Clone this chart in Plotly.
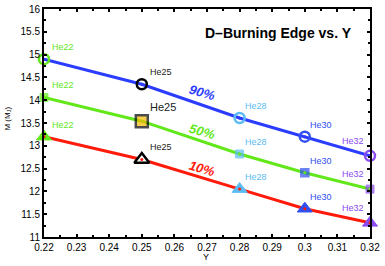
import plotly.graph_objects as go

Y_vals = [0.22, 0.25, 0.28, 0.30, 0.32]
m90 = [14.90, 14.35, 13.61, 13.20, 12.78]
m50 = [14.06, 13.54, 12.82, 12.41, 12.05]
m10 = [13.20, 12.70, 12.05, 11.62, 11.31]
labels = ["He22", "He25", "He28", "He30", "He32"]
pct_labels = ["90%", "50%", "10%"]
x_ticks = [0.22, 0.23, 0.24, 0.25, 0.26, 0.27, 0.28, 0.29, 0.30, 0.31, 0.32]
x_ticktext = ["0.22", "0.23", "0.24", "0.25", "0.26", "0.27", "0.28", "0.29", "0.3", "0.31", "0.32"]
y_ticks = [11, 11.5, 12, 12.5, 13, 13.5, 14, 14.5, 15, 15.5, 16]
y_ticktext = ["11", "11.5", "12", "12.5", "13", "13.5", "14", "14.5", "15", "15.5", "16"]

FONT = "Liberation Sans, Arial, Helvetica, sans-serif"
BLUE = "#2b3cff"
GREEN = "#62e81a"
RED = "#ff1a0a"
LBLUE = "#5bbcf5"
MBLUE = "#2f4ff0"
PURPLE = "#8a4cf0"
pt_colors = [GREEN, "black", LBLUE, MBLUE, PURPLE]

fig = go.Figure()

series = [(m90, BLUE), (m50, GREEN), (m10, RED)]
for ys, col in series:
    fig.add_trace(go.Scatter(x=Y_vals, y=ys, mode="lines", cliponaxis=False,
                             line=dict(color=col, width=3), showlegend=False,
                             hoverinfo="skip"))

# circles on 90% line
fig.add_trace(go.Scatter(x=Y_vals, y=m90, mode="markers", showlegend=False, cliponaxis=False,
                         marker=dict(symbol="circle", size=10, color="rgba(0,0,0,0)",
                                     line=dict(color=pt_colors, width=2.5))))
fig.add_trace(go.Scatter(x=Y_vals, y=m90, mode="markers", showlegend=False, cliponaxis=False,
                         marker=dict(symbol="circle", size=3, color=BLUE)))

# squares on 50% line
sq_fill = [GREEN, "#f5b800", LBLUE, MBLUE, PURPLE]
sq_sizes = [8, 12, 8, 8, 8]
fig.add_trace(go.Scatter(x=Y_vals, y=m50, mode="markers", showlegend=False, cliponaxis=False,
                         marker=dict(symbol="square", size=sq_sizes, color=sq_fill,
                                     line=dict(color=pt_colors, width=[1, 2.5, 1, 1.5, 1]))))
fig.add_trace(go.Scatter(x=[Y_vals[i] for i in (0, 2, 3, 4)], y=[m50[i] for i in (0, 2, 3, 4)],
                         mode="markers", showlegend=False, cliponaxis=False,
                         marker=dict(symbol="circle", size=3, color=GREEN)))

# triangles on 10% line
tri_fill = [GREEN, "white", LBLUE, MBLUE, PURPLE]
fig.add_trace(go.Scatter(x=Y_vals, y=m10, mode="markers", showlegend=False, cliponaxis=False,
                         marker=dict(symbol="triangle-up", size=13, color=tri_fill,
                                     line=dict(color=pt_colors, width=[1, 2.5, 1, 1, 1]))))
fig.add_trace(go.Scatter(x=Y_vals, y=m10, mode="markers", showlegend=False, cliponaxis=False,
                         marker=dict(symbol="circle", size=3, color=RED)))

# point labels
for ys in (m90, m50, m10):
    for i, (x, y) in enumerate(zip(Y_vals, ys)):
        big = (ys is m50 and i == 1)
        if i == 4:
            fig.add_annotation(x=x, y=y, text=labels[i], showarrow=False,
                               xanchor="right", yanchor="middle", xshift=-4, yshift=15,
                               font=dict(family=FONT, size=9, color=pt_colors[i]))
        else:
            fig.add_annotation(x=x, y=y, text=labels[i], showarrow=False,
                               xanchor="left", yanchor="middle",
                               xshift=(6 if i < 2 else 3), yshift=(14 if big else 12),
                               font=dict(family=FONT, size=(11 if big else 9),
                                         color=("#222222" if pt_colors[i] == "black" else pt_colors[i])))

# percentage labels
pct_pos = [(0.2684, 14.16, BLUE), (0.2684, 13.31, GREEN), (0.2684, 12.51, RED)]
for txt, (x, y, col) in zip(pct_labels, pct_pos):
    fig.add_annotation(x=x, y=y, text="<b><i>" + txt + "</i></b>", showarrow=False,
                       xanchor="center", yanchor="middle",
                       textangle=16, font=dict(family=FONT, size=13, color=col))

fig.add_annotation(xref="paper", yref="paper", x=0.718, y=0.895,
                   xanchor="center", yanchor="middle",
                   text="<b>D–Burning Edge vs. Y</b>", showarrow=False,
                   font=dict(family=FONT, size=14, color="black"))

# axis titles
fig.add_annotation(xref="paper", yref="paper", x=0.496, y=-0.088,
                   xanchor="center", yanchor="middle",
                   text="Y", showarrow=False,
                   font=dict(family=FONT, size=9, color="black"))
fig.add_annotation(xref="paper", yref="paper", x=-0.11, y=0.52,
                   xanchor="center", yanchor="middle",
                   text="M (M<sub>J</sub>)", showarrow=False, textangle=-90,
                   font=dict(family=FONT, size=8, color="black"))

fig.update_xaxes(range=[0.22, 0.32], tickvals=x_ticks, ticktext=x_ticktext, automargin=False,
                 showgrid=False, zeroline=False, showline=True, linecolor="black",
                 linewidth=2, mirror="allticks", ticks="inside", ticklen=3,
                 tickcolor="black", tickwidth=1.5,
                 minor=dict(dtick=0.005, ticks="inside", ticklen=2, tickcolor="black"),
                 tickfont=dict(family=FONT, size=10, color="black"))
fig.update_yaxes(range=[11, 16], tickvals=y_ticks, ticktext=y_ticktext, automargin=False,
                 showgrid=False, zeroline=False, showline=True, linecolor="black",
                 linewidth=2, mirror="allticks", ticks="inside", ticklen=3,
                 tickcolor="black", tickwidth=1.5,
                 minor=dict(dtick=0.25, ticks="inside", ticklen=2, tickcolor="black"),
                 tickfont=dict(family=FONT, size=10, color="black"))

fig.update_layout(width=385, height=266, margin=dict(l=44, r=15, t=9, b=29),
                  paper_bgcolor="white", plot_bgcolor="white", showlegend=False)

fig.write_html("out.html", config={"displayModeBar": False},
               post_script="document.body.style.margin='0';document.body.style.padding='0';")
